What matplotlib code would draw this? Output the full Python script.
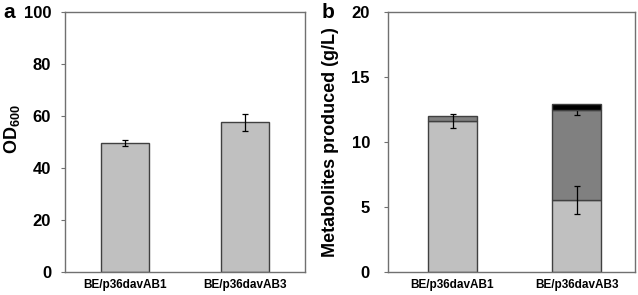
import matplotlib
matplotlib.use("Agg")
import matplotlib.pyplot as plt
import numpy as np

plt.rcParams['font.family'] = ['Liberation Sans', 'DejaVu Sans']
plt.rcParams['font.weight'] = 'bold'
plt.rcParams['mathtext.fontset'] = 'custom'
plt.rcParams['mathtext.rm'] = 'Liberation Sans:bold'
plt.rcParams['mathtext.bf'] = 'Liberation Sans:bold'
plt.rcParams['mathtext.default'] = 'bf'

# Data
strains = ["BE/p36davAB1", "BE/p36davAB3"]
od600 = [49.5, 57.6]
od600_err = [1.2, 3.2]

seg_light = [11.65, 5.53]
seg_light_err = [0.54, 1.1]
seg_dark = [0.38, 6.91]
seg_dark_err = [0.0, 0.32]
seg_black = [0.0, 0.46]

light = "#c0c0c0"
dark = "#808080"
blk = "#000000"
edge = "#404040"
spine_c = "#707070"

fig = plt.figure(figsize=(6.38, 2.95), dpi=100)
axa = fig.add_axes([65/638, 1-271.7/295, 240/638, (271.7-12.3)/295])
axb = fig.add_axes([388/638, 1-271.7/295, 247/638, (271.7-12.3)/295])

x = np.arange(len(strains))
w = 0.4

# panel a
axa.bar(x, od600, w, color=light, edgecolor=edge, linewidth=1.0, zorder=2)
axa.errorbar(x, od600, yerr=od600_err, fmt='none', ecolor='black',
             elinewidth=0.9, capsize=2.5, capthick=0.9, zorder=3)
axa.set_ylim(0, 100)
axa.set_xlim(-0.5, 1.5)
axa.set_yticks([0, 20, 40, 60, 80, 100])
axa.set_ylabel('OD$_{600}$', fontsize=13, fontweight='bold')
axa.yaxis.set_label_coords(-0.178, 0.55)

# panel b
bottom2 = np.array(seg_light)
bottom3 = bottom2 + np.array(seg_dark)
axb.bar(x, seg_light, w, color=light, edgecolor=edge, linewidth=1.0, zorder=2)
axb.bar(x, seg_dark, w, bottom=bottom2, color=dark, edgecolor=edge, linewidth=1.0, zorder=2)
axb.bar(x[1:], seg_black[1:], w, bottom=bottom3[1:], color=blk, edgecolor=edge, linewidth=1.0, zorder=4)
axb.errorbar(x, seg_light, yerr=seg_light_err, fmt='none', ecolor='black',
             elinewidth=0.9, capsize=2.5, capthick=0.9, zorder=3)
axb.errorbar(x[1:], bottom3[1:], yerr=seg_dark_err[1:], fmt='none', ecolor='black',
             elinewidth=0.9, capsize=2.5, capthick=0.9, zorder=3)
axb.set_ylim(0, 20)
axb.set_xlim(-0.52, 1.47)
axb.set_yticks([0, 5, 10, 15, 20])
axb.set_ylabel('Metabolites produced (g/L)', fontsize=13, fontweight='bold')
axb.yaxis.set_label_coords(-0.2, 0.5)

for ax in (axa, axb):
    ax.set_xticks(x)
    ax.set_xticklabels(strains, fontsize=8.5, fontweight='bold')
    ax.tick_params(axis='x', length=0, pad=5)
    ax.tick_params(axis='y', direction='out', length=3, width=0.8, color=spine_c,
                   labelsize=12, pad=7)
    for lab in ax.get_yticklabels():
        lab.set_fontweight('bold')
    for s in ax.spines.values():
        s.set_color(spine_c)
        s.set_linewidth(1.0)

axb.tick_params(axis='y', pad=10)

fig.text(3/638, 1-13/295, 'a', fontsize=15, fontweight='bold', va='center', ha='left')
fig.text(322/638, 1-13/295, 'b', fontsize=15, fontweight='bold', va='center', ha='left')

fig.savefig('out.png', dpi=100)
